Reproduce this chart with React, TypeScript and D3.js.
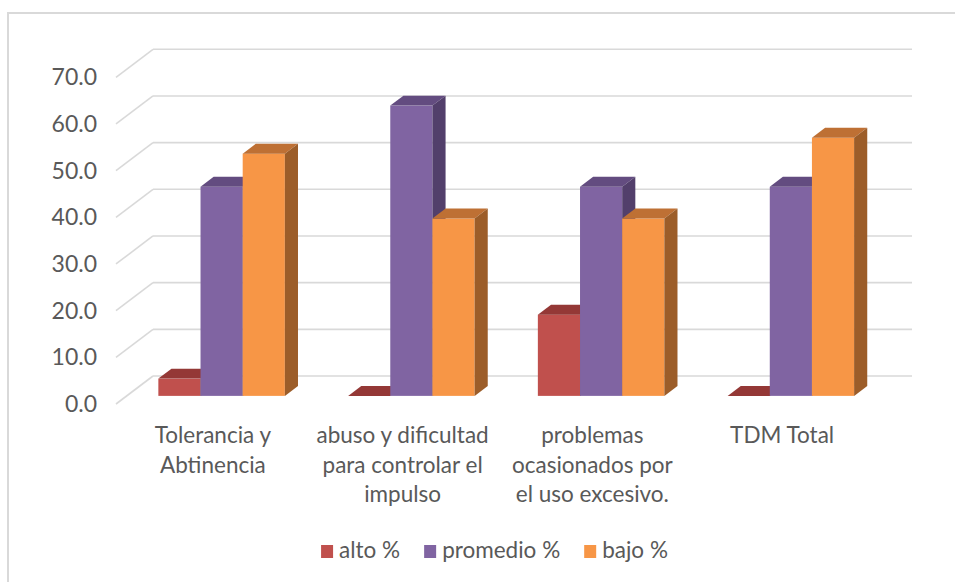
import React, { useEffect, useRef } from "react";
import { select, scaleBand, scaleLinear, format } from "d3";

// data
const categories = [
  "Tolerancia y Abtinencia",
  "abuso y dificultad para controlar el impulso",
  "problemas ocasionados por el uso excesivo.",
  "TDM Total",
];
const seriesNames = ["alto %", "promedio %", "bajo %"];
const alto = [3.7, 0, 17.4, 0];
const promedio = [44.8, 62.2, 44.8, 44.8];
const bajo = [51.9, 38.0, 38.0, 55.3];
const yTicks = [0, 10, 20, 30, 40, 50, 60, 70];

const faceColors = [
  { front: "#C0504D", top: "#943836", side: "#7E2F2D" },
  { front: "#8064A2", top: "#634C80", side: "#523F6B" },
  { front: "#F79646", top: "#BE7034", side: "#9C5D29" },
];

const W = 955;
const H = 582;
const FONT = "Lato, 'Open Sans', sans-serif";
const TEXT = "#595959";
const GRID = "#d9d9d9";
const FS = 22.5;

function App() {
  const svgRef = useRef<SVGSVGElement>(null);

  useEffect(() => {
    const svg = select(svgRef.current);
    svg.selectAll("*").remove();

    const values = [alto, promedio, bajo];

    // 3d frame
    const frontLeft = 116;
    const frontRight = 875;
    const floorY = 404;
    const depthX = 37;
    const depthY = -28;
    const f1 = 0.29;
    const f2 = 0.645;

    const yScale = scaleLinear().domain([0, 70]).range([0, 326.7]);
    const x0 = scaleBand()
      .domain(categories)
      .range([frontLeft, frontRight])
      .paddingInner(1 / 3)
      .paddingOuter(1 / 6);
    const x1 = scaleBand()
      .domain(seriesNames)
      .range([0, x0.bandwidth()]);

    // chart border
    svg
      .append("rect")
      .attr("x", 8)
      .attr("y", 13)
      .attr("width", 980)
      .attr("height", 620)
      .attr("fill", "none")
      .attr("stroke", GRID)
      .attr("stroke-width", 2);

    // gridlines: back wall + left side wall
    const grid = svg.append("g").attr("stroke", GRID).attr("stroke-width", 1.6).attr("fill", "none");
    yTicks.forEach(t => {
      const yf = floorY - yScale(t);
      grid
        .append("line")
        .attr("x1", frontLeft)
        .attr("y1", yf)
        .attr("x2", frontLeft + depthX)
        .attr("y2", yf + depthY);
      grid
        .append("line")
        .attr("x1", frontLeft + depthX)
        .attr("y1", yf + depthY)
        .attr("x2", frontRight + depthX)
        .attr("y2", yf + depthY);
    });

    // y tick labels
    svg
      .append("g")
      .selectAll("text")
      .data(yTicks)
      .join("text")
      .attr("x", 97)
      .attr("y", d => floorY - yScale(d))
      .attr("dy", "0.35em")
      .attr("text-anchor", "end")
      .attr("font-family", FONT)
      .attr("font-size", 23)
      .attr("fill", TEXT)
      .text(d => format(".1f")(d));

    // bars
    const bars = svg.append("g");
    const ddx = (f2 - f1) * depthX;
    const ddy = (f2 - f1) * depthY;
    categories.forEach((cat, ci) => {
      seriesNames.forEach((s, si) => {
        const v = values[si][ci];
        const c = faceColors[si];
        const w = x1.bandwidth();
        const bx = (x0(cat) as number) + (x1(s) as number) + f1 * depthX;
        const base = floorY + f1 * depthY;
        const top = base - yScale(v);
        const g = bars.append("g");
        g.append("rect")
          .attr("x", bx)
          .attr("y", top)
          .attr("width", w)
          .attr("height", yScale(v))
          .attr("fill", c.front);
        g.append("path")
          .attr("d", `M${bx},${top}L${bx + w},${top}L${bx + w + ddx},${top + ddy}L${bx + ddx},${top + ddy}Z`)
          .attr("fill", c.top);
        g.append("path")
          .attr("d", `M${bx + w},${top}L${bx + w + ddx},${top + ddy}L${bx + w + ddx},${base + ddy}L${bx + w},${base}Z`)
          .attr("fill", c.side);
      });
    });

    // category labels, wrapped
    const labels = svg
      .append("g")
      .attr("font-family", FONT)
      .attr("font-size", FS)
      .attr("fill", TEXT)
      .attr("text-anchor", "middle");
    const maxWidth = 178;
    categories.forEach(cat => {
      const cx = (x0(cat) as number) + x0.bandwidth() / 2 + 2;
      const t = labels.append("text").attr("x", cx).attr("y", 443);
      const words = cat.split(" ");
      let line: string[] = [];
      let lineNo = 0;
      let tspan = t.append("tspan").attr("x", cx).attr("y", 443);
      words.forEach(word => {
        line.push(word);
        tspan.text(line.join(" "));
        const node = tspan.node() as SVGTSpanElement;
        if (node.getComputedTextLength() > maxWidth && line.length > 1) {
          line.pop();
          tspan.text(line.join(" "));
          line = [word];
          lineNo += 1;
          tspan = t
            .append("tspan")
            .attr("x", cx)
            .attr("y", 443 + lineNo * 29.5)
            .text(word);
        }
      });
    });

    // legend
    const legend = svg
      .append("g")
      .attr("font-family", FONT)
      .attr("font-size", FS)
      .attr("fill", TEXT);
    const items = legend
      .selectAll("g")
      .data(seriesNames)
      .join("g");
    items
      .append("rect")
      .attr("y", 545)
      .attr("width", 12)
      .attr("height", 13)
      .attr("fill", (d, i) => faceColors[i].front);
    items
      .append("text")
      .attr("x", 18)
      .attr("y", 558)
      .text(d => d);
    const widths = items.nodes().map(n => (n as SVGGElement).getBBox().width);
    const gap = 24;
    const total = widths.reduce((a, b) => a + b, 0) + gap * (widths.length - 1);
    let cursor = 494.5 - total / 2;
    items.attr("transform", (d, i) => {
      const x = cursor;
      cursor += widths[i] + gap;
      return `translate(${x},0)`;
    });
  }, []);

  return (
    <svg
      ref={svgRef}
      width={W}
      height={H}
      style={{ position: "absolute", left: 0, top: 0, background: "#fff" }}
    />
  );
}

export default App;
